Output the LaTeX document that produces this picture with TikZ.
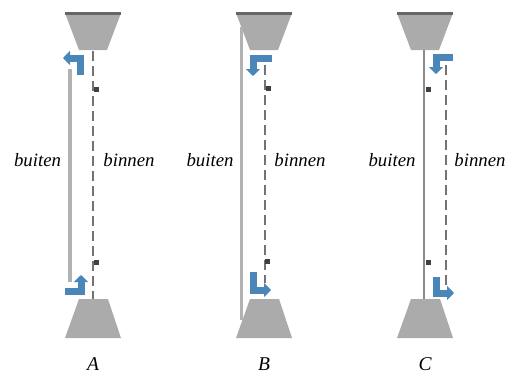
\documentclass[tikz,border=0pt]{standalone}
\usepackage{fontspec}
\setmainfont{Liberation Serif}
\usepackage{tikz}
\usetikzlibrary{arrows.meta}
\definecolor{bargray}{HTML}{ABABAB}
\definecolor{flowblue}{HTML}{4A86B8}
\tikzset{
  lab/.style={font=\itshape\fontsize{18.8}{20}\selectfont, inner sep=0pt},
  caselab/.style={font=\itshape\fontsize{19.5}{21}\selectfont, inner sep=0pt},
  block/.style={fill=bargray},
  topedge/.style={draw=black!60, line width=3pt},
  outer/.style={draw=black!30, line width=3.6pt},
  inner/.style={draw=black!55, line width=2.2pt, dash pattern=on 10pt off 5pt},
  flow/.style={draw=flowblue, line width=7pt, -{Triangle[width=14pt,length=7pt]}},
  pin/.style={fill=black!75, minimum size=5pt, inner sep=0pt}
}
\begin{document}
\begin{tikzpicture}[x=1pt,y=-1pt]
  \useasboundingbox (0,0) rectangle (506,375);
  % blocks
  \foreach \x in {65,236,397}{
    \fill[block] (\x,13) -- (\x+56,13) -- (\x+42,50) -- (\x+14,50) -- cycle;
    \draw[topedge] (\x,13.5) -- (\x+56,13.5);
    \fill[block] (\x+14,299) -- (\x+43,299) -- (\x+56,338) -- (\x,338) -- cycle;
  }
  % A
  \coordinate (a-i1) at (93,51);
  \coordinate (a-i2) at (93,299);
  \coordinate (a-o1) at (70,69);
  \coordinate (a-o2) at (70,282);
  \draw[inner] (a-i1) -- (a-i2);
  \draw[outer] (a-o1) -- (a-o2);
  \draw[flow] (80,75) |- (63,58);
  \draw[flow] (65,291) -| (81,275);
  \node[pin] (a-p1) at (96.5,89) {};
  \node[pin] (a-p2) at (96,262) {};
  \node[lab] (a-out) at (37.5,160) {buiten};
  \node[lab] (a-in) at (129,160) {binnen};
  \node[caselab] (a-name) at (93,364.5) {A};
  % B
  \coordinate (b-i1) at (265,65);
  \coordinate (b-i2) at (265,283);
  \coordinate (b-o1) at (241.5,27);
  \coordinate (b-o2) at (241.5,320);
  \draw[inner] (b-i1) -- (b-i2);
  \draw[outer] (b-o1) -- (b-o2);
  \draw[flow] (272,58) -| (253,76);
  \draw[flow] (253,272) |- (271,290);
  \node[pin] (b-p1) at (268,88) {};
  \node[pin] (b-p2) at (267.5,261) {};
  \node[lab] (b-out) at (210,160) {buiten};
  \node[lab] (b-in) at (300,160) {binnen};
  \node[caselab] (b-name) at (264,364.5) {B};
  % C
  \coordinate (c-i1) at (446,65);
  \coordinate (c-i2) at (446,285);
  \coordinate (c-o1) at (424,50);
  \coordinate (c-o2) at (424,299);
  \draw[inner] (c-i1) -- (c-i2);
  \draw[outer, draw=black!45, line width=2.8pt] (c-o1) -- (c-o2);
  \draw[flow] (453,57) -| (436,74);
  \draw[flow] (436,277) |- (454,293);
  \node[pin] (c-p1) at (428,89) {};
  \node[pin] (c-p2) at (428,262) {};
  \node[lab] (c-out) at (392,160) {buiten};
  \node[lab] (c-in) at (480,160) {binnen};
  \node[caselab] (c-name) at (425,364.5) {C};
\end{tikzpicture}
\end{document}
